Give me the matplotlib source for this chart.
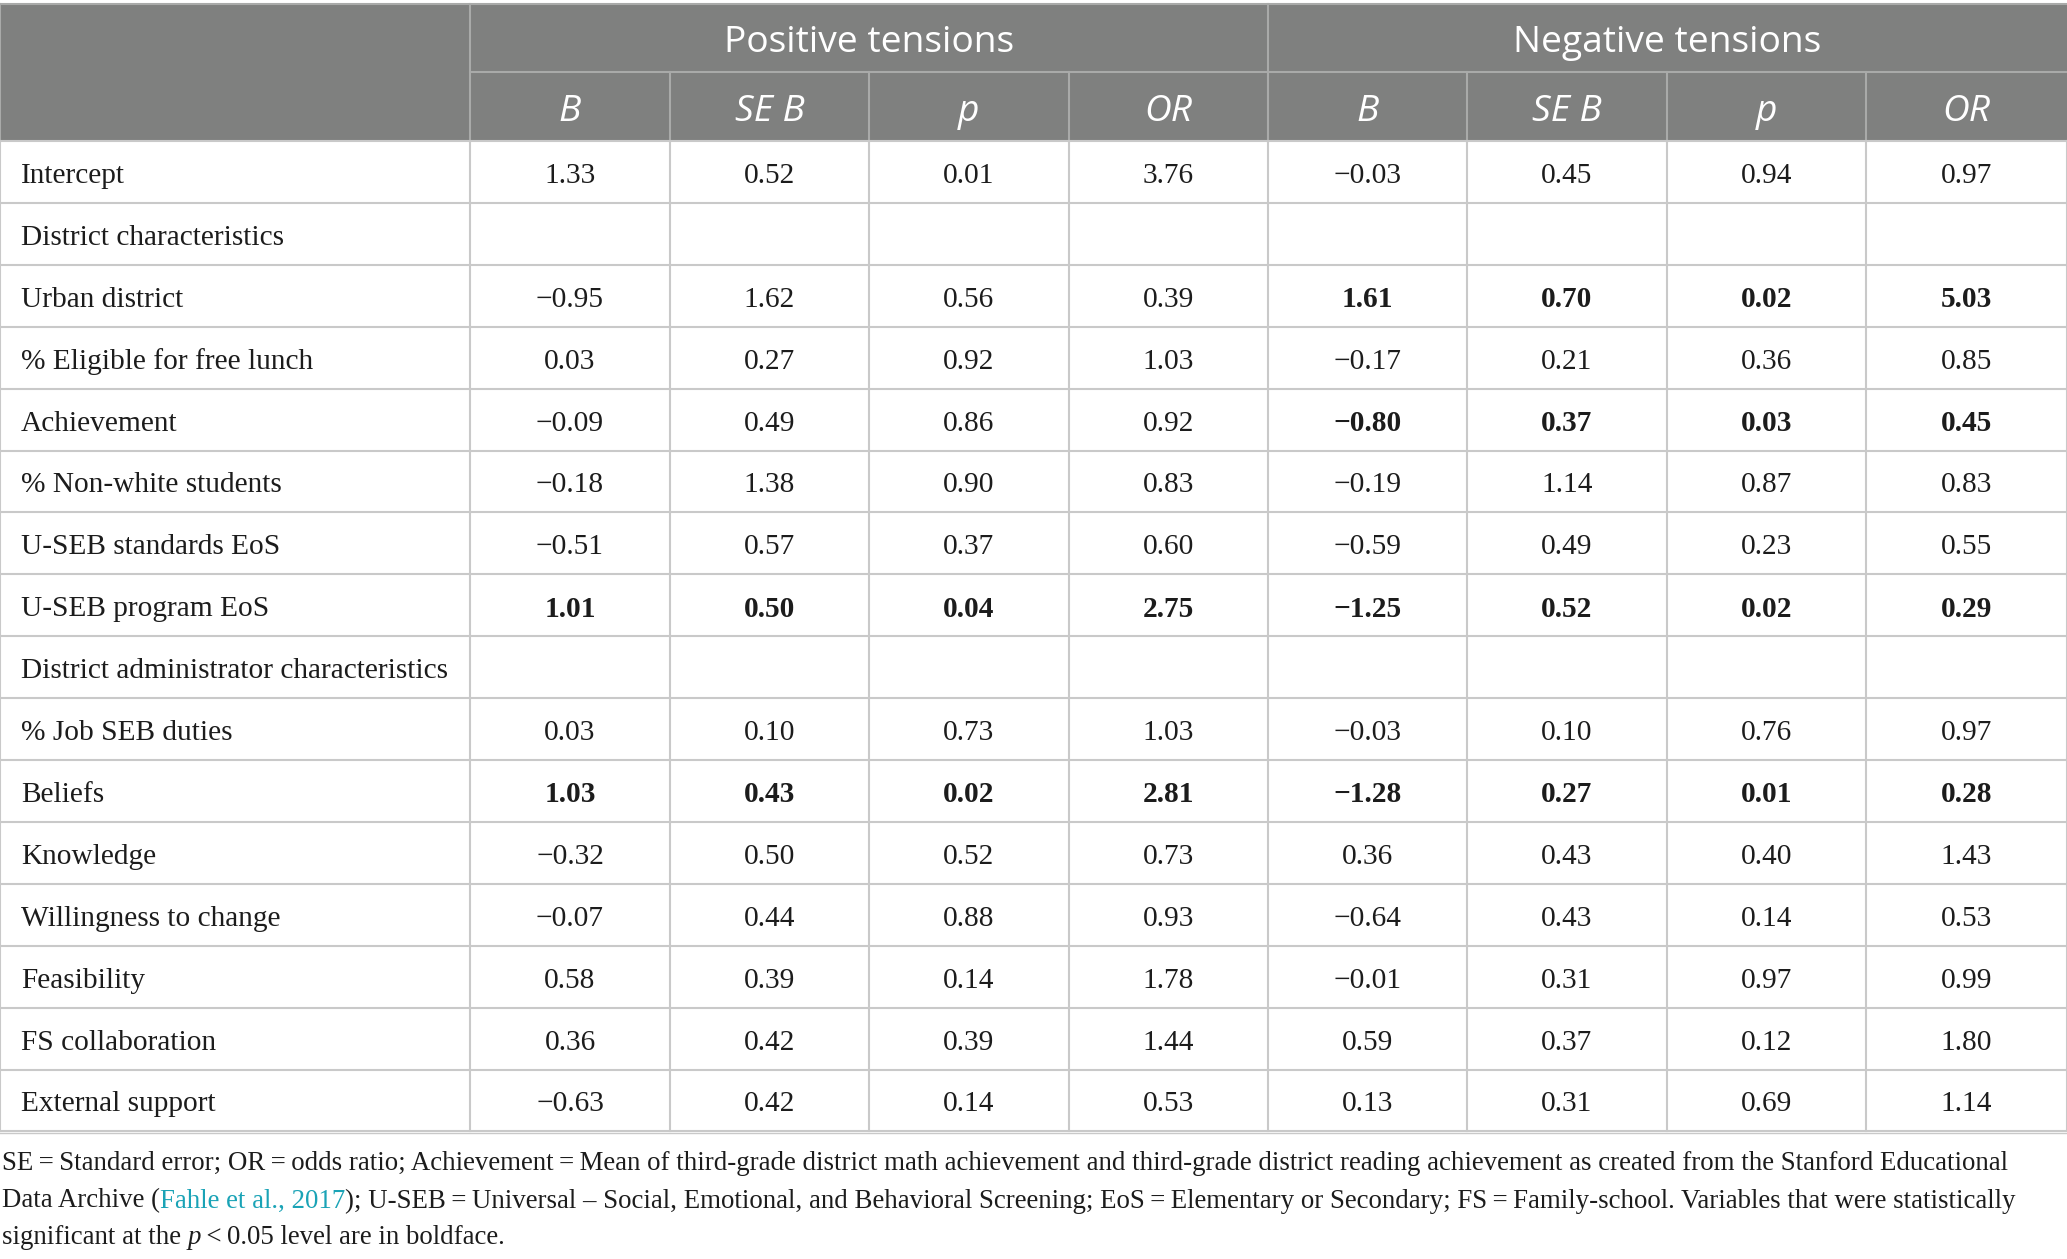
import matplotlib.pyplot as plt
from matplotlib.patches import Rectangle

# table contents
row_labels = ["Intercept", "District characteristics", "Urban district",
              "% Eligible for free lunch", "Achievement", "% Non-white students",
              "U-SEB standards EoS", "U-SEB program EoS",
              "District administrator characteristics", "% Job SEB duties",
              "Beliefs", "Knowledge", "Willingness to change", "Feasibility",
              "FS collaboration", "External support"]
group_labels = ["Positive tensions", "Negative tensions"]
col_labels = ["B", "SE B", "p", "OR"]

pos_B = [1.33, None, -0.95, 0.03, -0.09, -0.18, -0.51, 1.01, None, 0.03, 1.03, -0.32, -0.07, 0.58, 0.36, -0.63]
pos_SE = [0.52, None, 1.62, 0.27, 0.49, 1.38, 0.57, 0.50, None, 0.10, 0.43, 0.50, 0.44, 0.39, 0.42, 0.42]
pos_p = [0.01, None, 0.56, 0.92, 0.86, 0.90, 0.37, 0.04, None, 0.73, 0.02, 0.52, 0.88, 0.14, 0.39, 0.14]
pos_OR = [3.76, None, 0.39, 1.03, 0.92, 0.83, 0.60, 2.75, None, 1.03, 2.81, 0.73, 0.93, 1.78, 1.44, 0.53]
neg_B = [-0.03, None, 1.61, -0.17, -0.80, -0.19, -0.59, -1.25, None, -0.03, -1.28, 0.36, -0.64, -0.01, 0.59, 0.13]
neg_SE = [0.45, None, 0.70, 0.21, 0.37, 1.14, 0.49, 0.52, None, 0.10, 0.27, 0.43, 0.43, 0.31, 0.37, 0.31]
neg_p = [0.94, None, 0.02, 0.36, 0.03, 0.87, 0.23, 0.02, None, 0.76, 0.01, 0.40, 0.14, 0.97, 0.12, 0.69]
neg_OR = [0.97, None, 5.03, 0.85, 0.45, 0.83, 0.55, 0.29, None, 0.97, 0.28, 1.43, 0.53, 0.99, 1.80, 1.14]

groups = [[pos_B, pos_SE, pos_p, pos_OR], [neg_B, neg_SE, neg_p, neg_OR]]

note1 = ("SE\u2009=\u2009Standard error; OR\u2009=\u2009odds ratio; Achievement\u2009=\u2009Mean of third-grade "
         "district math achievement and third-grade district reading achievement as created from the Stanford Educational")
note2 = ["Data Archive (", "Fahle et al., 2017",
         "); U-SEB\u2009=\u2009Universal \u2013 Social, Emotional, and Behavioral Screening; "
         "EoS\u2009=\u2009Elementary or Secondary; FS\u2009=\u2009Family-school. Variables that were statistically"]
note3 = ["significant at the ", "p", "\u2009<\u20090.05 level are in boldface."]

# layout (pixels)
W, H = 2067, 1259
col_edges = [0, 470, 670, 869, 1069, 1268, 1467, 1667, 1866, 2067]
top, h1, h2 = 4, 72, 141
row_h = 61.9
bottom = h2 + row_h * len(row_labels)

head_bg = "#7f807f"
head_line = "#a9aaa9"
grid = "#c9c9c9"
ink = "#1c1c1c"
serif = "Liberation Serif"
sans = "Open Sans"

fig = plt.figure(figsize=(W / 100, H / 100), dpi=100)
ax = fig.add_axes([0, 0, 1, 1])
ax.set_xlim(0, W)
ax.set_ylim(H, 0)
ax.axis("off")

# header
ax.add_patch(Rectangle((0, top), W, h2 - top, color=head_bg, lw=0))
ax.plot([0, W], [top, top], color=head_line, lw=1.5)
ax.plot([col_edges[1], W], [h1, h1], color=head_line, lw=1.5)
ax.plot([0, 0], [top, h2], color=head_line, lw=1.5)
for x in [col_edges[1], col_edges[5]]:
    ax.plot([x, x], [top, h2], color=head_line, lw=1.5)
for x in col_edges[2:-1]:
    ax.plot([x, x], [h1, h2], color=head_line, lw=1.5)

for g, name in enumerate(group_labels):
    xc = (col_edges[1 + 4 * g] + col_edges[5 + 4 * g]) / 2
    ax.text(xc, (top + h1) / 2 + 5, name, ha="center", va="center",
            color="white", fontsize=26.7, family=sans)
    for c, lab in enumerate(col_labels):
        i = 1 + 4 * g + c
        xc = (col_edges[i] + col_edges[i + 1]) / 2
        ax.text(xc, (h1 + h2) / 2 + 5, lab, ha="center", va="center",
                color="white", fontsize=26.7, family=sans, style="italic")

# body grid
for r in range(len(row_labels) + 1):
    y = h2 + r * row_h
    ax.plot([0, W], [y, y], color=grid, lw=1.5)
for x in col_edges:
    ax.plot([x, x], [h2, bottom], color=grid, lw=1.5)
ax.plot([0, W], [bottom + 2, bottom + 2], color=grid, lw=1.0)


def fmt(v):
    return f"{v:.2f}".replace("-", "\u2212")


for r, lab in enumerate(row_labels):
    yc = h2 + (r + 0.5) * row_h + 4
    ax.text(21, yc, lab, ha="left", va="center", fontsize=21.2,
            family=serif, color=ink)
    for g, cols in enumerate(groups):
        p = cols[2][r]
        bold = p is not None and p < 0.05 and lab != "Intercept"
        for c, vals in enumerate(cols):
            v = vals[r]
            if v is None:
                continue
            i = 1 + 4 * g + c
            xc = (col_edges[i] + col_edges[i + 1]) / 2
            ax.text(xc, yc, fmt(v), ha="center", va="center", fontsize=21.2,
                    family=serif, color=ink,
                    weight="bold" if bold else "normal")


def chain(x, y, pieces, styles):
    t = None
    for txt, st in zip(pieces, styles):
        kw = dict(fontsize=19.4, family=serif, color=ink)
        if st == "link":
            kw["color"] = "#1aa3b6"
        if st == "italic":
            kw["style"] = "italic"
        if t is None:
            t = ax.text(x, y, txt, ha="left", va="center", **kw)
        else:
            t = ax.annotate(txt, xy=(1, 0), xycoords=t, ha="left", va="bottom", **kw)


chain(2, 1164, [note1], ["plain"])
chain(2, 1201, note2, ["plain", "link", "plain"])
chain(2, 1238, note3, ["plain", "italic", "plain"])

fig.savefig("out.png", dpi=100)
